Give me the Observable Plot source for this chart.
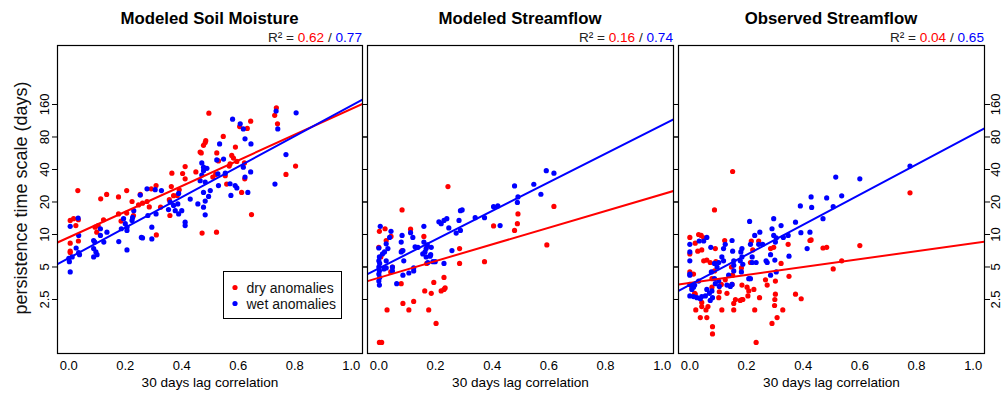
<!DOCTYPE html>
<html><head><meta charset="utf-8">
<script src="https://cdn.jsdelivr.net/npm/d3@7"></script>
<script src="https://cdn.jsdelivr.net/npm/@observablehq/plot@0.6"></script>
<style>
body{margin:0;background:#fff;}
#chart{position:relative;width:1003px;height:395px;font-family:"Liberation Sans",Arial,sans-serif;background:#fff;}
#chart svg{position:absolute;top:0;overflow:visible;}
</style></head><body><div id="chart"></div>
<script>
// ---------- data: [lag-30 correlation, persistence time scale (days)] ----------
const soilDry = [[0.005,8.3],[0.005,7.0],[0.005,6.8],[0.034,8.7],[0.025,12.1],[0.017,14],[0.005,13.5],[0.034,13.7],[0.032,25.5],[0.093,11.7],[0.099,10.5],[0.104,12.1],[0.123,13.7],[0.113,21.4],[0.134,23.5],[0.176,15.5],[0.176,22.3],[0.185,13.3],[0.205,15.8],[0.205,25.5],[0.224,20.2],[0.229,15],[0.247,18.8],[0.253,23.5],[0.261,19.5],[0.277,20.2],[0.285,18],[0.292,26.5],[0.309,28.4],[0.31,9.9],[0.325,17.9],[0.356,21],[0.358,15],[0.363,27.8],[0.365,37],[0.371,22.9],[0.384,23],[0.391,25.9],[0.403,36.7],[0.412,42.6],[0.412,32.8],[0.45,38],[0.465,58],[0.469,57],[0.472,10.3],[0.477,67],[0.483,71],[0.485,74],[0.496,133],[0.51,34],[0.52,36],[0.523,10.5],[0.524,57],[0.53,48],[0.547,81],[0.559,29.3],[0.554,35],[0.568,43],[0.571,45],[0.577,54],[0.583,51],[0.59,64.5],[0.595,47.5],[0.605,100],[0.612,24.5],[0.622,46],[0.623,32.8],[0.632,96],[0.644,112],[0.647,15.3],[0.729,127],[0.735,149],[0.739,106],[0.769,36],[0.803,43]];
const soilWet = [[0.734,139],[0.805,134],[0.74,95],[0.58,117],[0.607,106],[0.618,95],[0.624,77],[0.645,69],[0.534,69],[0.524,49],[0.548,50],[0.477,42],[0.489,41],[0.769,55],[0.644,38],[0.624,34],[0.618,42],[0.471,35.5],[0.465,31.5],[0.483,30.6],[0.501,25.5],[0.495,22.5],[0.477,24.5],[0.483,20.4],[0.457,19.2],[0.477,17.9],[0.483,15.2],[0.528,36.5],[0.554,37],[0.571,29.5],[0.589,28.4],[0.595,27],[0.574,23],[0.634,24.5],[0.73,29.3],[0.53,28.4],[0.359,19.9],[0.371,18.6],[0.353,17],[0.377,16.6],[0.389,15.5],[0.4,16.6],[0.412,13],[0.412,12.1],[0.386,19.2],[0.43,21.3],[0.389,24],[0.277,26.5],[0.306,26],[0.328,25.5],[0.253,23.2],[0.28,15],[0.309,15.5],[0.294,11.7],[0.257,9.4],[0.261,9.3],[0.294,9.1],[0.23,16.6],[0.226,14.4],[0.224,13.5],[0.194,14],[0.2,12.6],[0.206,11.7],[0.206,10.9],[0.186,11.3],[0.177,8.6],[0.206,7.2],[0.135,10.5],[0.124,8.5],[0.112,9.8],[0.088,8.8],[0.092,8.5],[0.088,7.4],[0.096,6.9],[0.088,6.2],[0.1,6.5],[0.112,11.3],[0.033,14.2],[0.005,11.9],[0.035,9.8],[0.026,7.5],[0.035,6.8],[0.038,6.5],[0,6.0],[0.002,5.6],[0.012,6.2],[0.005,4.5],[0.471,46],[0.477,39]];
const modFlowDry = [[0.244,27.8],[0.082,16.9],[0.618,18.2],[0.491,15.5],[0.489,12.6],[0.479,10.9],[0.405,12],[0.593,8.0],[0.285,7.4],[0.285,5.4],[0.373,5.6],[0.002,10.7],[0.022,11.3],[0.026,8.8],[0.043,9.6],[0.112,11.2],[0.159,9.6],[0.17,7.8],[0.082,7.1],[0.048,5.0],[0.042,4.5],[0.079,3.5],[0.23,4.0],[0.194,3.6],[0.23,3.1],[0.22,3.0],[0.185,2.85],[0.162,3.0],[0.085,2.3],[0.123,2.4],[0.106,2.0],[0.029,2.0],[0.176,2.0],[0.202,1.5],[0.002,1.0],[0.01,1.0],[0.007,6.2],[0.169,5.4],[0.0,7.6],[0.234,3.2]];
const modFlowWet = [[0.591,39],[0.618,37],[0.479,28.2],[0.547,29.2],[0.572,23.6],[0.491,22.3],[0.489,19.8],[0.405,18.1],[0.42,18.4],[0.34,14.3],[0.373,14.3],[0.428,12.1],[0.288,16.6],[0.294,16.9],[0.283,13.5],[0.288,10.9],[0.273,10.3],[0.247,11.5],[0.24,14],[0.23,13.5],[0.212,13.1],[0.22,12.6],[0.258,7.1],[0.23,5.4],[0.199,5.6],[0.191,5.6],[0.173,5.5],[0.181,6.3],[0.159,11.9],[0.159,8.5],[0.171,8.0],[0.167,7.4],[0.185,7.6],[0.163,6.9],[0.167,6.2],[0.183,6.5],[0.155,6.6],[0.128,7.7],[0.138,7.6],[0.082,9.8],[0.079,8.5],[0.112,10.4],[0.12,9.4],[0.085,7.1],[0.088,5.7],[0.079,6.9],[0.043,10.7],[0.038,9.4],[0.026,8.2],[0.032,7.4],[0.02,6.9],[0.013,6.6],[0.005,11.9],[0.0,7.5],[0.002,6.2],[0.0,5.7],[0.003,5.4],[0.0,5.0],[0.002,4.6],[0.0,4.3],[0.003,4.0],[0.0,3.7],[0.002,3.4],[0.048,5.0],[0.048,4.6],[0.063,3.5],[0.085,4.2],[0.106,4.4],[0.123,4.6],[0.123,4.9],[0.026,5.7],[0.018,4.8],[0.026,4.9]];
const obsFlowDry = [[0.151,38.3],[0.777,24.3],[0.087,16.9],[0.6,7.9],[0.536,5.7],[0.506,4.8],[0.47,7.5],[0.483,7.6],[0.428,8.9],[0.424,8.8],[0.347,8.1],[0.322,5.4],[0.35,4.1],[0.373,2.8],[0.393,2.54],[0.302,3.7],[0.302,2.8],[0.299,2.2],[0.29,1.5],[0.308,1.7],[0.328,2.0],[0.3,2.5],[0.285,7.4],[0.296,7.6],[0.273,3.4],[0.267,3.8],[0.243,8.7],[0.217,8.7],[0.222,7.2],[0.214,5.5],[0.202,3.25],[0.208,3.0],[0.226,3.1],[0.184,3.4],[0.184,2.5],[0.178,2.45],[0.187,2.5],[0.161,2.5],[0.155,2.3],[0.155,2.0],[0.113,2.0],[0.229,2.0],[0.246,2.6],[0.234,1.0],[0.123,8.8],[0.09,7.4],[0.147,5.0],[0.151,4.2],[0.182,4.9],[0.149,3.45],[0.125,3.8],[0.131,2.85],[0.102,2.6],[0.111,3.45],[0.104,2.95],[0.06,5.8],[0.072,5.5],[0.087,4.6],[0.092,5.6],[0.078,3.9],[0.078,3.25],[0.064,2.15],[0.057,2.0],[0.042,2.35],[0.042,2.15],[0.06,1.7],[0.037,1.7],[0.08,1.4],[0.08,1.2],[0.021,2.0],[0.019,2.8],[0.013,4.3],[0.0,4.5],[0.0,6.6],[0.0,9.4],[0.031,10],[0.04,9.8],[0.049,9.3],[0.019,8.3],[0.042,7.2],[0.028,7.0],[0.049,5.7],[0.017,2.85],[0.007,3.25],[0.205,2.7]];
const obsFlowWet = [[0.777,43],[0.515,34],[0.6,32.8],[0.428,22.3],[0.483,21.8],[0.536,22.8],[0.506,18.1],[0.43,17.8],[0.39,18.4],[0.47,14],[0.373,13.0],[0.392,10.4],[0.424,10.5],[0.322,12.1],[0.296,14.0],[0.29,11.3],[0.247,10.5],[0.229,9.8],[0.211,13.2],[0.296,9.8],[0.305,9.3],[0.302,8.5],[0.33,9.4],[0.347,9.8],[0.35,6.3],[0.305,4.5],[0.285,4.2],[0.285,6.5],[0.414,7.4],[0.269,5.7],[0.273,5.5],[0.3,5.8],[0.257,8.1],[0.243,8.1],[0.22,6.2],[0.22,5.5],[0.234,5.5],[0.208,3.9],[0.214,3.9],[0.184,7.4],[0.184,6.2],[0.18,6.9],[0.178,5.7],[0.151,7.0],[0.155,5.7],[0.149,8.8],[0.155,5.2],[0.155,4.6],[0.182,4.5],[0.187,5.3],[0.119,7.4],[0.125,8.1],[0.113,6.2],[0.119,5.7],[0.137,4.2],[0.143,3.3],[0.131,3.4],[0.104,3.3],[0.102,3.7],[0.149,3.45],[0.074,7.6],[0.102,5.5],[0.087,5.4],[0.096,5.0],[0.076,4.5],[0.087,3.9],[0.09,3.5],[0.078,3.0],[0.069,2.85],[0.08,2.6],[0.072,2.45],[0.06,3.1],[0.055,2.7],[0.042,2.66],[0.037,2.54],[0.025,2.6],[0.013,2.66],[0.0,2.7],[0.013,3.25],[0.0,3.45],[0.0,4.2],[0.0,4.3],[0.0,5.7],[0.0,6.9],[0.0,8.1],[0.033,8.7],[0.049,8.7],[0.06,9.4],[0.017,3.4],[0.031,3.7],[0.007,3.1],[0.214,8.1]];

// regression fits: persistence = intercept * 2^(slope * corr)   [dry, wet]
const panelTitles = ["Modeled Soil Moisture", "Modeled Streamflow", "Observed Streamflow"];
const r2Dry = ["0.62", "0.16", "0.04"];
const r2Wet = ["0.77", "0.74", "0.65"];
const fitDryIntercept = [9.4, 3.97, 3.56];
const fitDrySlope = [3.95, 2.57, 1.22];
const fitWetIntercept = [6.04, 4.86, 3.41];
const fitWetSlope = [4.69, 4.41, 4.63];
const yTicks = [2.5, 5, 10, 20, 40, 80, 160];
const xTicks = [0, 0.2, 0.4, 0.6, 0.8, 1.0];
const legendLabels = ["dry anomalies", "wet anomalies"];

// ---------- layout ----------
const RED = "#ff0000", BLUE = "#0000ff";
const FONT = '"Liberation Sans", Arial, sans-serif';
const xDomain = [-0.04, 1.04];
const yDomain = [0.79, 563];
const frames = [[57, 362], [367, 673], [678, 984]];
const series = [[soilDry, soilWet], [modFlowDry, modFlowWet], [obsFlowDry, obsFlowWet]];
const chart = document.getElementById("chart");

frames.forEach(([L, R], i) => {
  const mL = i === 0 ? 57 : 5, mR = i === 2 ? 19 : 5;
  const width = (R - L) + mL + mR;
  const fit = (a, b) => xDomain.map(x => ({x, y: a * Math.pow(2, b * x)}));
  const [dry, wet] = series[i];
  const yAxisTicks = anchor => Plot.axisY({anchor, ticks: yTicks, tickSize: 5, label: null, tickFormat: () => ""});
  const yLabels = anchor => Plot.text(yTicks, {
    y: d => d, text: d => String(d), frameAnchor: anchor, dx: anchor === "left" ? -13 : 11,
    rotate: -90, textAnchor: "middle", fontSize: 13, fill: "#000"
  });
  const marks = [
    Plot.dot(dry, {x: d => d[0], y: d => d[1], r: 2.6, fill: RED, stroke: null}),
    Plot.dot(wet, {x: d => d[0], y: d => d[1], r: 2.6, fill: BLUE, stroke: null}),
    Plot.line(fit(fitDryIntercept[i], fitDrySlope[i]), {x: "x", y: "y", stroke: RED, strokeWidth: 2, clip: true}),
    Plot.line(fit(fitWetIntercept[i], fitWetSlope[i]), {x: "x", y: "y", stroke: BLUE, strokeWidth: 2, clip: true}),
    Plot.frame({stroke: "#000", strokeWidth: 1.2}),
    Plot.axisX({ticks: xTicks, tickFormat: d3.format(".1f"), tickSize: 0, tickPadding: 7, label: null, fontSize: 13}),
    Plot.axisX({ticks: [], label: "30 days lag correlation", labelAnchor: "center", labelArrow: "none", labelOffset: 33, fontSize: 13.6}),
    yAxisTicks("left"),
    yAxisTicks("right")
  ];
  if (i === 0) marks.push(yLabels("left"));
  if (i === 2) marks.push(yLabels("right"));
  const plot = Plot.plot({
    width, height: 395, marginLeft: mL, marginRight: mR, marginTop: 45, marginBottom: 42,
    style: {fontFamily: FONT, fontSize: "13px", color: "#000", background: "transparent", overflow: "visible"},
    x: {domain: xDomain, axis: null},
    y: {type: "log", domain: yDomain, axis: null},
    marks
  });
  plot.style.left = (L - mL) + "px";
  chart.append(plot);
});

// ---------- titles, R², y label, legend ----------
const ov = d3.create("svg").attr("width", 1003).attr("height", 395)
  .style("left", "0px").style("pointer-events", "none").style("font-family", FONT);
frames.forEach(([L, R], i) => {
  ov.append("text").attr("x", (L + R) / 2).attr("y", 24).attr("text-anchor", "middle")
    .attr("font-weight", "bold").attr("font-size", 16.8).attr("fill", "#000").text(panelTitles[i]);
  const t = ov.append("text").attr("x", R).attr("y", 41.5).attr("text-anchor", "end").attr("font-size", 13.6);
  t.append("tspan").attr("fill", "#222").text("R² = ");
  t.append("tspan").attr("fill", RED).text(r2Dry[i]);
  t.append("tspan").attr("fill", "#222").text(" / ");
  t.append("tspan").attr("fill", BLUE).text(r2Wet[i]);
});
ov.append("text").attr("transform", "translate(26.5,198) rotate(-90)").attr("text-anchor", "middle")
  .attr("font-size", 18).attr("fill", "#111").text("persistence time scale (days)");
ov.append("rect").attr("x", 223.5).attr("y", 271.5).attr("width", 118).attr("height", 47)
  .attr("fill", "#fff").attr("stroke", "#000").attr("stroke-width", 1);
[RED, BLUE].forEach((c, k) => {
  ov.append("circle").attr("cx", 235).attr("cy", 287.5 + 16 * k).attr("r", 2.6).attr("fill", c);
  ov.append("text").attr("x", 246.5).attr("y", 292.5 + 16 * k).attr("font-size", 14).attr("fill", "#111").text(legendLabels[k]);
});
chart.append(ov.node());
</script></body></html>
